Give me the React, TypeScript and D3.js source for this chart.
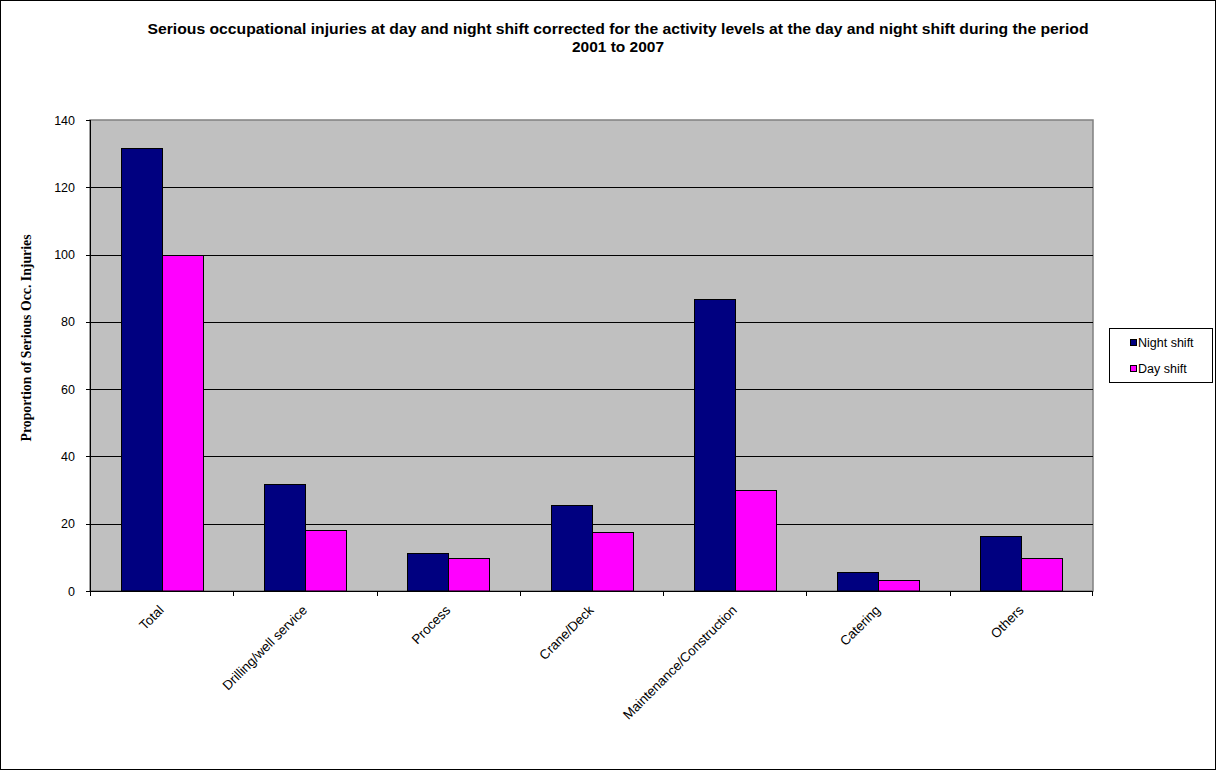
import React from "react";
import * as d3 from "d3";

const categories = ["Total", "Drilling/well service", "Process", "Crane/Deck", "Maintenance/Construction", "Catering", "Others"];
const nightShift = [131.7, 31.8, 11.3, 25.6, 86.8, 5.6, 16.3];
const dayShift = [100, 18.1, 9.8, 17.5, 30.0, 3.2, 9.8];
const seriesNames = ["Night shift", "Day shift"];
const seriesColors = ["#000080", "#FF00FF"];
const yTicks = [0, 20, 40, 60, 80, 100, 120, 140];
const titleLines = [
  "Serious occupational injuries at day and night shift corrected for the activity levels at the day and night shift during the period",
  "2001 to 2007",
];
const yLabel = "Proportion of Serious Occ. Injuries";

const W = 1216, H = 770;
const plot = { left: 90, right: 1093, top: 120, bottom: 591 };

export default function App() {
  const x = d3.scaleBand<string>().domain(categories).range([plot.left, plot.right]).paddingInner(0).paddingOuter(0);
  const bw = x.bandwidth();
  const barW = bw / 3.5;
  const y = d3.scaleLinear().domain([0, 140]).range([plot.bottom, plot.top]);
  const series = [nightShift, dayShift];
  const font = "Arial, 'Liberation Sans', sans-serif";

  return (
    <svg width={W} height={H} style={{ position: "fixed", left: 0, top: 0, background: "#fff" }}>
      <rect x={0.5} y={0.5} width={W - 1} height={H - 1} fill="#fff" stroke="#000" strokeWidth={1} />
      <text x={618} y={34} textAnchor="middle" fontFamily={font} fontWeight="bold" fontSize={15.5} textLength={941} lengthAdjust="spacingAndGlyphs">
        {titleLines[0]}
      </text>
      <text x={618} y={52} textAnchor="middle" fontFamily={font} fontWeight="bold" fontSize={15.5}>
        {titleLines[1]}
      </text>
      <rect x={plot.left} y={plot.top} width={plot.right - plot.left} height={plot.bottom - plot.top} fill="#C0C0C0" stroke="#808080" strokeWidth={1.5} />
      {yTicks.filter((v) => v > 0 && v < 140).map((v) => (
        <line key={v} x1={plot.left} x2={plot.right} y1={Math.round(y(v)) + 0.5} y2={Math.round(y(v)) + 0.5} stroke="#000" />
      ))}
      {categories.map((c, i) =>
        series.map((s, j) => {
          const bx = (x(c) as number) + barW * 0.75 + j * barW;
          return (
            <rect key={c + j} x={Math.round(bx) + 0.5} y={Math.round(y(s[i])) + 0.5} width={Math.round(barW)} height={Math.round(y(0) - y(s[i])) - 0.5}
              fill={seriesColors[j]} stroke="#000" strokeWidth={1} />
          );
        })
      )}
      <line x1={plot.left + 0.5} x2={plot.left + 0.5} y1={plot.top} y2={plot.bottom} stroke="#000" />
      <line x1={plot.left} x2={plot.right} y1={plot.bottom + 0.5} y2={plot.bottom + 0.5} stroke="#000" />
      {yTicks.map((v) => (
        <g key={v}>
          <line x1={plot.left - 4} x2={plot.left} y1={Math.round(y(v)) + 0.5} y2={Math.round(y(v)) + 0.5} stroke="#000" />
          <text x={75} y={y(v) + 4.5} textAnchor="end" fontFamily={font} fontSize={12.5}>{v}</text>
        </g>
      ))}
      {categories.map((c) => (
        <line key={c} x1={Math.round(x(c) as number) + 0.5} x2={Math.round(x(c) as number) + 0.5}
          y1={plot.bottom} y2={plot.bottom + 5} stroke="#000" />
      ))}
      <line x1={plot.right - 0.5} x2={plot.right - 0.5} y1={plot.bottom} y2={plot.bottom + 5} stroke="#000" />
      {categories.map((c) => {
        const cx = (x(c) as number) + bw / 2;
        return (
          <text key={c} transform={`translate(${cx + 3},${611}) rotate(-45)`} textAnchor="end" fontFamily={font} fontSize={13.3}>
            {c}
          </text>
        );
      })}
      <text transform={`translate(31,338) rotate(-90)`} textAnchor="middle" fontFamily="'Times New Roman', 'Liberation Serif', serif" fontWeight="bold" fontSize={13.8}>
        {yLabel}
      </text>
      <rect x={1109.5} y={328.5} width={103} height={54} fill="#fff" stroke="#000" />
      {seriesNames.map((n, i) => (
        <g key={n}>
          <rect x={1130.5} y={339.5 + i * 26} width={6} height={6} fill={seriesColors[i]} stroke="#000" />
          <text x={1138} y={346.5 + i * 26} fontFamily={font} fontSize={12.5}>{n}</text>
        </g>
      ))}
    </svg>
  );
}
